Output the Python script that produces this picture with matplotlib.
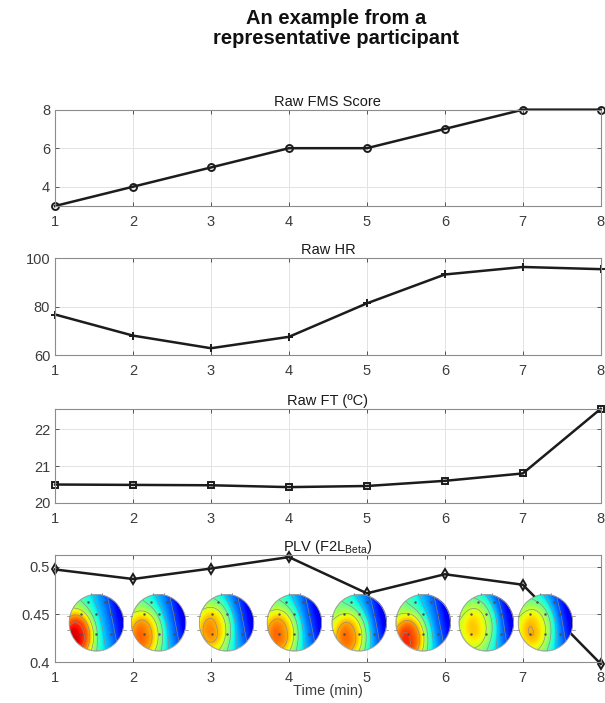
import numpy as np
import matplotlib.pyplot as plt

plt.rcParams['font.family'] = ['Liberation Sans', 'DejaVu Sans']

# data
minutes = [1, 2, 3, 4, 5, 6, 7, 8]
fms = [3, 4, 5, 6, 6, 7, 8, 8]
hr = [76.7, 68.0, 62.8, 67.5, 81.3, 93.2, 96.3, 95.4]
ft = [20.50, 20.49, 20.48, 20.43, 20.46, 20.60, 20.80, 22.55]
plv = [0.497, 0.487, 0.498, 0.510, 0.472, 0.492, 0.481, 0.398]

# topomap placement (x in minutes) and hot-spot of each map (unit disk coords)
topo_x = [1.53, 2.33, 3.20, 4.07, 4.90, 5.72, 6.53, 7.29]
hot_x = [-0.65, -0.45, -0.40, -0.45, -0.30, -0.45, -0.25, -0.30]
hot_y = [-0.40, -0.35, -0.15, -0.30, -0.40, -0.50, -0.05, -0.15]
hot_amp = [0.38, 0.29, 0.27, 0.29, 0.31, 0.35, 0.24, 0.25]

panels = [
    ('Raw FMS Score', fms, 'o', (3, 8), [4, 6, 8], ['4', '6', '8']),
    ('Raw HR', hr, '+', (60, 100), [60, 80, 100], ['60', '80', '100']),
    ('Raw FT (ºC)', ft, 's', (20, 22.55), [20, 21, 22], ['20', '21', '22']),
    ('PLV (F2L$_{\\mathregular{Beta}}$)', plv, 'd', (0.4, 0.512), [0.4, 0.45, 0.5], ['0.4', '0.45', '0.5']),
]
# [left, bottom, width, height] in figure fractions
boxes = [
    [0.091, 0.707, 0.902, 0.137],
    [0.091, 0.495, 0.902, 0.138],
    [0.091, 0.2845, 0.902, 0.134],
    [0.091, 0.0583, 0.902, 0.152],
]

tc = '#3c3c3c'
fig = plt.figure(figsize=(6.05, 7.03), dpi=100)
fig.text(0.555, 0.9595, 'An example from a\nrepresentative participant', ha='center', va='center',
         fontsize=14.5, fontweight='bold', linespacing=1.1, color='#111111')

axes = []
for (title, vals, mk, ylim, yt, ytl), box in zip(panels, boxes):
    ax = fig.add_axes(box)
    ax.plot(minutes, vals, color='#1c1c1c', lw=1.8, marker=mk, ms=5 if mk != '+' else 6,
            mfc='none', mec='#1c1c1c', mew=1.4, zorder=2, clip_on=False)
    ax.set_xlim(1, 8)
    ax.set_ylim(*ylim)
    ax.set_xticks(minutes)
    ax.set_yticks(yt)
    ax.set_yticklabels(ytl)
    ax.set_title(title, fontsize=10.5, color='#1a1a1a', pad=3)
    ax.grid(True, color='#e3e3e3', lw=0.7)
    ax.set_axisbelow(True)
    ax.tick_params(direction='in', length=3, width=0.6, colors=tc, labelsize=10.5,
                   top=True, right=True, labeltop=False, labelright=False)
    ax.tick_params(axis='x', pad=6.5)
    ax.tick_params(axis='y', pad=3.5)
    for s in ax.spines.values():
        s.set_color('#8c8c8c')
        s.set_linewidth(0.8)
    axes.append(ax)

axes[-1].set_xlabel('Time (min)', fontsize=10.5, color=tc, labelpad=-1)

# scalp maps in the last panel
ax = axes[-1]
rw, rh, cy = 0.35, 0.0297, 0.441
g = np.linspace(-1, 1, 140)
X, Y = np.meshgrid(g, g)
outside = X ** 2 + Y ** 2 > 1
levels = np.linspace(0.2, 0.85, 6)
ex = [-0.55, 0, 0.55, -0.55, 0, 0.55, -0.3, 0.3]
ey = [0.3, 0.3, 0.3, -0.4, -0.4, -0.4, 0.75, 0.75]
t = np.linspace(0, 2 * np.pi, 100)
for cx, hx, hy, amp in zip(topo_x, hot_x, hot_y, hot_amp):
    field = 0.36 - 0.24 * X - 0.04 * X ** 2 - 0.06 * Y
    r2 = ((X - hx) / 0.6) ** 2 + ((Y - hy) / 0.85) ** 2
    field = field + amp * np.exp(-r2 ** 1.5)
    field = np.clip(field, 0, 1)
    field = np.ma.masked_where(outside, field)
    ext = (cx - rw, cx + rw, cy - rh, cy + rh)
    ax.imshow(field, extent=ext, origin='lower', cmap='jet', vmin=0, vmax=1,
              aspect='auto', zorder=3, interpolation='bilinear')
    ax.contour(cx + X * rw, cy + Y * rh, field, levels=levels, colors='#8a8a8a',
               linewidths=0.45, zorder=4)
    ax.plot(cx + rw * np.cos(t), cy + rh * np.sin(t), color='#a0a0a0', lw=0.5, zorder=4)
    ax.plot([cx + e * rw for e in ex], [cy + e * rh for e in ey], ls='none', marker='.',
            ms=1.5, color='#505050', zorder=5)
    # ears and nose ticks
    for sx in (-1, 1):
        for yy in (0.25, -0.25):
            ax.plot([cx + sx * rw * 0.97, cx + sx * rw * 1.07], [cy + yy * rh] * 2,
                    color='#808080', lw=0.5, zorder=5)
    for xx in (-0.2, 0.2):
        ax.plot([cx + xx * rw] * 2, [cy + rh * 0.97, cy + rh * 1.07], color='#808080',
                lw=0.5, zorder=5)
ax.set_xlim(1, 8)
ax.set_ylim(0.4, 0.512)

fig.savefig('out.png', dpi=100)
